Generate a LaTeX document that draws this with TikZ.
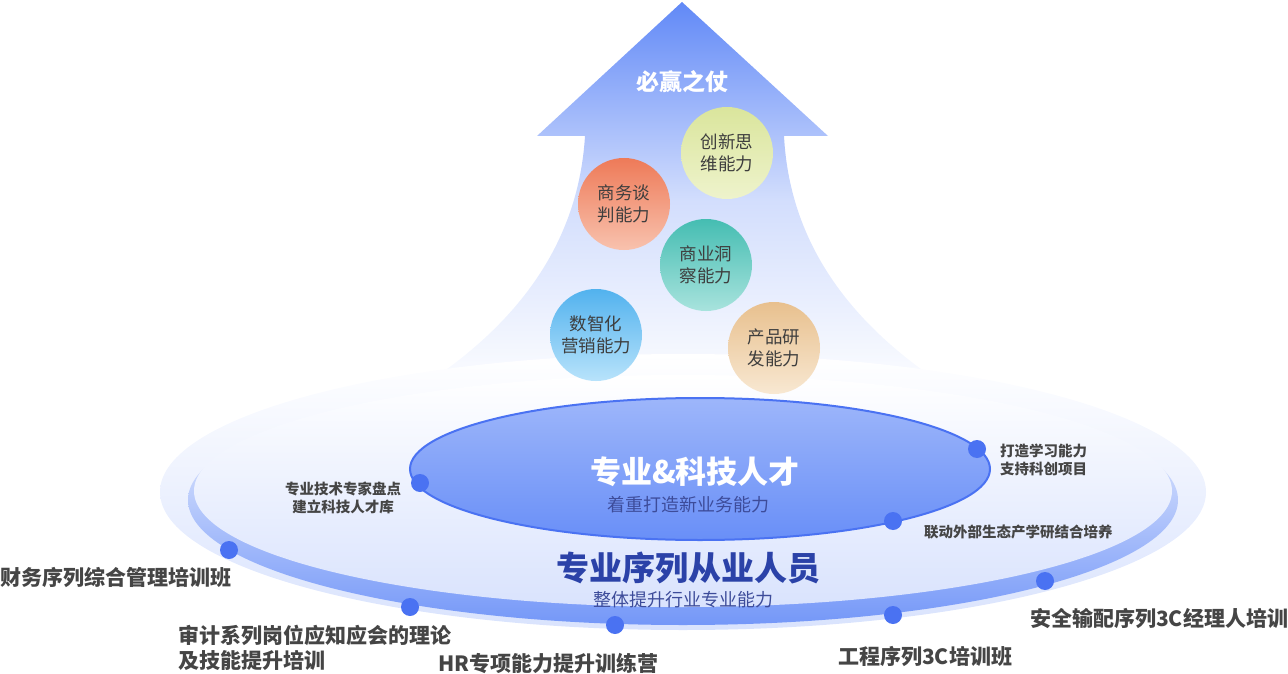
\documentclass[tikz,border=0pt]{standalone}
\usepackage{fontspec}
\setmainfont{Noto Sans CJK SC}
\usetikzlibrary{shapes.geometric}
\definecolor{arrowtop}{HTML}{6189F7}
\definecolor{dotblue}{HTML}{4A72F2}
\definecolor{labelgray}{HTML}{454545}
\definecolor{navy}{HTML}{2B42A8}
\definecolor{subnavy}{HTML}{3D4C9A}
\definecolor{limeA}{HTML}{DAE59C}
\definecolor{limeB}{HTML}{EEF3CC}
\definecolor{orangeA}{HTML}{EE7A58}
\definecolor{orangeB}{HTML}{F8C2AE}
\definecolor{tealA}{HTML}{45BDB2}
\definecolor{tealB}{HTML}{A8E3DD}
\definecolor{skyA}{HTML}{52B2EE}
\definecolor{skyB}{HTML}{B8E3FB}
\definecolor{tanA}{HTML}{E8C08E}
\definecolor{tanB}{HTML}{F8E8D2}
\tikzset{
  dotnode/.style={circle, fill=dotblue, minimum size=18pt, inner sep=0pt},
  skill/.style={circle, minimum size=92pt, inner sep=0pt, align=center,
     text=labelgray!90!black, font=\fontsize{17.5}{22}\selectfont},
  biglabel/.style={anchor=west, inner sep=0pt, text=labelgray, align=left,
     font=\fontsize{21}{25}\selectfont\bfseries},
  smalllabel/.style={inner sep=0pt, text=labelgray,
     font=\fontsize{14.5}{18}\selectfont\bfseries}
}
\begin{document}
\begin{tikzpicture}[x=1pt,y=-1pt]
\useasboundingbox (0,0) rectangle (1288,674);
% arrow
\shade[top color=arrowtop, bottom color=white, middle color=arrowtop!28!white]
  (682,2) -- (828,136) -- (784,136)
  .. controls (790,250) and (858,335) .. (968,400)
  -- (400,400)
  .. controls (510,335) and (578,250) .. (585,136)
  -- (537,136) -- cycle;
% platform
\node[ellipse, minimum width=1046pt, minimum height=276pt, inner sep=0pt,
  top color=white, bottom color=arrowtop!24!white] (glow) at (683,492) {};
\node[ellipse, minimum width=990pt, minimum height=250pt, inner sep=0pt,
  top color=white, bottom color=arrowtop!88!white] (rim) at (683,500) {};
\node[ellipse, minimum width=978pt, minimum height=232pt, inner sep=0pt,
  top color=white, bottom color=arrowtop!24!white] (disk) at (683,491) {};
\node[ellipse, minimum width=580pt, minimum height=142pt, inner sep=0pt,
  top color=arrowtop!62!white, bottom color=arrowtop!95!white,
  draw=dotblue, line width=2pt] (inner) at (700,469) {};
% skills
\node[skill, top color=limeA, bottom color=limeB] (innov) at (727,153) {创新思\\维能力};
\node[skill, top color=orangeA, bottom color=orangeB] (nego) at (624,204) {商务谈\\判能力};
\node[skill, top color=tealA, bottom color=tealB] (insight) at (706,265) {商业洞\\察能力};
\node[skill, top color=skyA, bottom color=skyB] (digital) at (596,335) {数智化\\营销能力};
\node[skill, top color=tanA, bottom color=tanB] (product) at (774,348) {产品研\\发能力};
% titles
\node[text=white, font=\fontsize{23}{23}\selectfont\bfseries] (title) at (682,82) {必赢之仗};
\node[text=white, font=\fontsize{31}{31}\selectfont\bfseries] (tech) at (695,472) {专业\&科技人才};
\node[text=subnavy, font=\fontsize{18}{18}\selectfont] (techsub) at (688,505) {着重打造新业务能力};
\node[text=navy, font=\fontsize{33}{33}\selectfont\bfseries] (staff) at (688,568) {专业序列从业人员};
\node[text=subnavy, font=\fontsize{18}{18}\selectfont] (staffsub) at (683,600) {整体提升行业专业能力};
% inner dots and labels
\node[dotnode] (d1) at (420,483) {};
\node[dotnode] (d2) at (977,449) {};
\node[dotnode] (d3) at (893,521) {};
\node[smalllabel, align=center] (l1) at (343,498) {专业技术专家盘点\\建立科技人才库};
\node[smalllabel, align=left, anchor=west] (l2) at (1000,460) {打造学习能力\\支持科创项目};
\node[smalllabel, anchor=west] (l3) at (924,532) {联动外部生态产学研结合培养};
% outer dots and labels
\node[dotnode] (o1) at (229,550) {};
\node[dotnode] (o2) at (410,607) {};
\node[dotnode] (o3) at (615,625) {};
\node[dotnode] (o4) at (893,615) {};
\node[dotnode] (o5) at (1045,581) {};
\node[biglabel] (b1) at (0,578) {财务序列综合管理培训班};
\node[biglabel] (b2) at (178,648) {审计系列岗位应知应会的理论\\及技能提升培训};
\node[biglabel] (b3) at (438,663) {HR专项能力提升训练营};
\node[biglabel] (b4) at (838,657) {工程序列3C培训班};
\node[biglabel] (b5) at (1030,619) {安全输配序列3C经理人培训};
\end{tikzpicture}
\end{document}
